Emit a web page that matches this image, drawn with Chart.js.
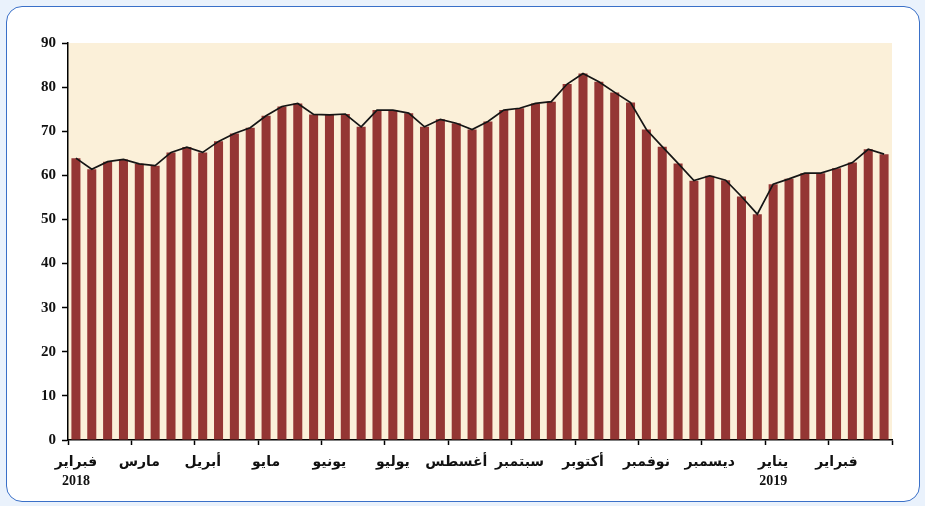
<!DOCTYPE html>
<html>
<head>
<meta charset="utf-8">
<script src="https://cdn.jsdelivr.net/npm/chart.js@4/dist/chart.umd.min.js"></script>
<style>
  html, body { margin: 0; padding: 0; width: 925px; height: 506px; overflow: hidden; background: #EAF2FC; }
  #frame { position: absolute; left: 6px; top: 6px; width: 914px; height: 496px; background: #fff;
           border: 1.5px solid #3A70C8; border-radius: 16px; box-sizing: border-box; }
  #wrap { position: absolute; left: 0; top: 0; width: 925px; height: 506px; }
</style>
</head>
<body>
<div id="frame"></div>
<div id="wrap"><canvas id="c" width="925" height="506"></canvas></div>
<script>
// Month labels (one per 4 weekly observations)
const monthLabels = ['فبراير','مارس','أبريل','مايو','يونيو','يوليو','أغسطس','سبتمبر','أكتوبر','نوفمبر','ديسمبر','يناير','فبراير'];
// Year labels shown under specific months (index in monthLabels)
const yearLabels = { 0: '2018', 11: '2019' };
const weeksPerMonth = 4;
// Weekly values (52 weeks)
const values = [
  63.9, 61.4, 63.1, 63.6, 62.6, 62.2, 65.2, 66.4, 65.2, 67.7, 69.5, 70.8,
  73.5, 75.6, 76.3, 73.8, 73.7, 73.9, 71.0, 74.8, 74.8, 74.1, 71.0, 72.7,
  71.8, 70.4, 72.2, 74.8, 75.2, 76.3, 76.7, 80.7, 83.1, 81.2, 78.8, 76.5,
  70.4, 66.5, 62.7, 58.8, 59.9, 58.9, 55.2, 51.2, 58.0, 59.2, 60.5, 60.5,
  61.6, 62.9, 65.9, 64.8
];
const yTicks = [0,10,20,30,40,50,60,70,80,90];

// Build weekly category labels from the month labels
const categories = values.map((v, i) => {
  if (i % weeksPerMonth !== 0) return '';
  const m = i / weeksPerMonth;
  const name = monthLabels[m] || '';
  return yearLabels[m] ? [name, yearLabels[m]] : name;
});

const bgPlugin = {
  id: 'bg',
  beforeDraw(chart) {
    const { ctx, chartArea: a } = chart;
    ctx.save();
    ctx.fillStyle = '#FBF0D9';
    ctx.fillRect(a.left, a.top, a.right - a.left, a.bottom - a.top);
    ctx.restore();
  }
};

const fontStack = "'Liberation Serif', 'Times New Roman', 'DejaVu Sans', serif";

new Chart(document.getElementById('c'), {
  data: {
    labels: categories,
    datasets: [
      { type: 'line', data: values, borderColor: '#151515', borderWidth: 1.7, pointRadius: 0, tension: 0, order: 0, fill: false },
      { type: 'bar', data: values, backgroundColor: '#943634', borderWidth: 0, barPercentage: 0.57, categoryPercentage: 1.0, order: 1 }
    ]
  },
  options: {
    responsive: false,
    animation: false,
    devicePixelRatio: 1,
    layout: { padding: { left: 0, top: 43, right: 33, bottom: 0 } },
    plugins: { legend: { display: false }, tooltip: { enabled: false } },
    scales: {
      x: {
        type: 'category',
        offset: true,
        grid: {
          offset: true,
          drawOnChartArea: false,
          drawTicks: true,
          tickLength: 5,
          tickWidth: 1.5,
          tickColor: (ctx) => (ctx.index === undefined || ctx.index % weeksPerMonth === 0) ? '#000' : 'rgba(0,0,0,0)'
        },
        border: { display: true, color: '#000', width: 1.5 },
        ticks: {
          autoSkip: false, maxRotation: 0, minRotation: 0, padding: 8,
          color: '#111',
          font: { family: fontStack, size: 14, weight: 'bold', lineHeight: 1.35 }
        },
        afterFit: (s) => { s.height = 66; }
      },
      y: {
        min: 0, max: 90,
        afterBuildTicks: (s) => { s.ticks = yTicks.map(v => ({ value: v })); },
        grid: { drawOnChartArea: false, drawTicks: true, tickLength: 6, tickWidth: 1.5, tickColor: '#000' },
        border: { display: true, color: '#000', width: 1.5 },
        ticks: { padding: 6, color: '#111', font: { family: fontStack, size: 15, weight: 'bold' } },
        afterFit: (s) => { s.width = 68; }
      }
    }
  },
  plugins: [bgPlugin]
});
</script>
</body>
</html>
